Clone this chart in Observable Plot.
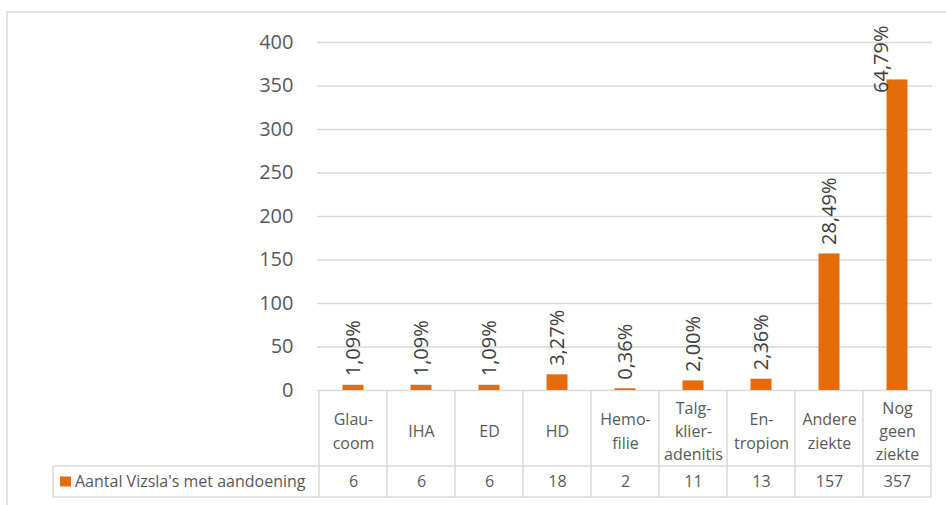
<!DOCTYPE html>
<html>
<head>
<meta charset="utf-8">
<script src="https://cdn.jsdelivr.net/npm/d3@7"></script>
<script src="https://cdn.jsdelivr.net/npm/@observablehq/plot@0.6"></script>
<style>
  html, body { margin: 0; padding: 0; background: #fff; }
  #chart { position: relative; width: 946px; height: 505px; overflow: hidden; }
</style>
</head>
<body>
<div id="chart"></div>
<script>
// Categories (line breaks as hyphenated in the data table header)
const categories = [
  "Glau-\ncoom", "IHA", "ED", "HD", "Hemo-\nfilie",
  "Talg-\nklier-\nadenitis", "En-\ntropion", "Andere\nziekte", "Nog\ngeen\nziekte"
];
// Number of dogs per condition
const counts = [6, 6, 6, 18, 2, 11, 13, 157, 357];
// Share labels shown above each bar
const percentLabels = ["1,09%", "1,09%", "1,09%", "3,27%", "0,36%", "2,00%", "2,36%", "28,49%", "64,79%"];
// Value axis ticks
const yTicks = [0, 50, 100, 150, 200, 250, 300, 350, 400];
const seriesName = "Aantal Vizsla's met aandoening";

const data = categories.map((c, i) => ({ category: c, count: counts[i], pct: percentLabels[i] }));

const font = "'Open Sans', sans-serif";
const gray = "#595959";
const lineGray = "#d9d9d9";
const orange = "#E46C0A";
const headerH = 76, rowH = 31, legendLeft = 53;

// Labels of very tall bars would run off the top of the chart: they go beside the bar instead
const runsOffTop = d => d.count > 300;

const plot = Plot.plot({
  width: 946,
  height: 505,
  marginTop: 42,
  marginRight: 14,
  marginBottom: 115,
  marginLeft: 317,
  style: { fontFamily: font, background: "transparent", color: gray },
  x: { domain: categories, padding: 0, axis: null },
  y: { domain: [0, 400], axis: null },
  marks: [
    Plot.gridY(yTicks, { stroke: lineGray, strokeOpacity: 1, strokeWidth: 1.5 }),
    Plot.axisY(yTicks, { tickSize: 0, tickPadding: 24, fontSize: 20, fill: gray, label: null }),
    Plot.barY(data, { x: "category", y: "count", fill: orange, insetLeft: 23.5, insetRight: 23.5 }),
    Plot.text(data.filter(d => !runsOffTop(d)), {
      x: "category", y: "count", text: "pct", rotate: -90, textAnchor: "start",
      dy: -9, fontSize: 20, fill: "#404040"
    }),
    Plot.text(data.filter(runsOffTop), {
      x: "category", frameAnchor: "top", text: "pct", rotate: -90, textAnchor: "end",
      dy: -17, dx: -24, fontSize: 20, fill: "#404040"
    }),
    // Data table: category header row
    Plot.text(data, {
      x: "category", frameAnchor: "bottom", text: "category", lineAnchor: "middle",
      dy: headerH / 2 + 1, fontSize: 16, lineHeight: 1.45, fill: gray
    }),
    // Data table: value row
    Plot.text(data, {
      x: "category", frameAnchor: "bottom", text: d => String(d.count), lineAnchor: "middle",
      dy: headerH + rowH / 2, fontSize: 16, fill: gray
    })
  ]
});

document.getElementById("chart").appendChild(plot);

// Table grid and legend cell, positioned from the plot's own scales
const svg = d3.select(plot);
const xs = plot.scale("x");
const ys = plot.scale("y");
const y0 = ys.apply(0);
const yHead = y0 + headerH;
const yRow = yHead + rowH;
const edges = categories.map(c => xs.apply(c));
const xEnd = edges[edges.length - 1] + xs.bandwidth;
edges.push(xEnd);

const g = svg.insert("g", ":first-child")
  .attr("fill", "none")
  .attr("stroke", lineGray)
  .attr("stroke-width", 1.5);

// outer chart border
g.append("path").attr("d", `M7,505V12H946`);

edges.forEach(x => {
  g.append("line").attr("x1", x).attr("x2", x).attr("y1", y0).attr("y2", yRow);
});
g.append("line").attr("x1", legendLeft).attr("x2", xEnd).attr("y1", yHead).attr("y2", yHead);
g.append("line").attr("x1", legendLeft).attr("x2", xEnd).attr("y1", yRow).attr("y2", yRow);
g.append("line").attr("x1", legendLeft).attr("x2", legendLeft).attr("y1", yHead).attr("y2", yRow);

const rowMid = yHead + rowH / 2;
svg.append("rect")
  .attr("x", legendLeft + 7).attr("y", rowMid - 5)
  .attr("width", 11).attr("height", 10)
  .attr("fill", orange);
svg.append("text")
  .attr("x", legendLeft + 22).attr("y", rowMid)
  .attr("dy", "0.35em")
  .attr("text-anchor", "start")
  .attr("font-family", font).attr("font-size", 16)
  .attr("fill", gray)
  .text(seriesName);
</script>
</body>
</html>
